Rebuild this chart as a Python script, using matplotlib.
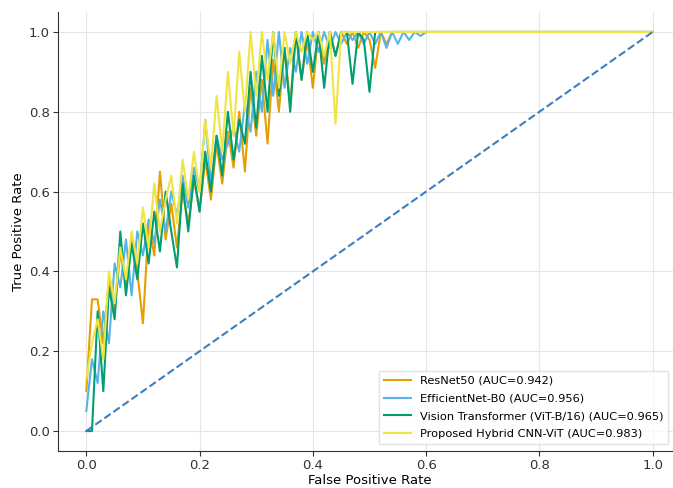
import matplotlib.pyplot as plt

# FPR grid (0.00 .. 0.60 step 0.01, then 1.0)
fpr = [round(i / 100, 2) for i in range(61)] + [1.0]

tpr_resnet = [0.10, 0.33, 0.33, 0.22, 0.38, 0.30, 0.45, 0.36, 0.48, 0.40,
              0.27, 0.52, 0.44, 0.65, 0.48, 0.57, 0.46, 0.60, 0.52, 0.63,
              0.55, 0.68, 0.58, 0.72, 0.62, 0.75, 0.66, 0.80, 0.65, 0.86,
              0.74, 0.88, 0.72, 0.93, 0.80, 0.96, 0.82, 1.00, 0.88, 0.98,
              0.86, 1.00, 0.92, 1.00, 0.94, 1.00, 0.97, 1.00, 0.96, 1.00,
              0.98, 0.91, 1.00, 0.97, 1.00, 1.00, 1.00, 1.00, 1.00, 1.00,
              1.00, 1.00]
tpr_effnet = [0.05, 0.18, 0.12, 0.30, 0.22, 0.42, 0.36, 0.48, 0.34, 0.50,
              0.44, 0.53, 0.47, 0.58, 0.50, 0.60, 0.54, 0.64, 0.56, 0.66,
              0.60, 0.78, 0.62, 0.74, 0.68, 0.72, 0.76, 0.70, 0.82, 0.75,
              0.90, 0.80, 0.98, 0.84, 1.00, 0.86, 0.96, 0.90, 1.00, 0.92,
              1.00, 0.95, 1.00, 0.96, 1.00, 0.97, 1.00, 0.98, 1.00, 0.97,
              1.00, 0.97, 1.00, 0.96, 1.00, 0.97, 1.00, 0.98, 1.00, 0.99,
              1.00, 1.00]
tpr_vit = [0.00, 0.00, 0.30, 0.10, 0.36, 0.28, 0.50, 0.34, 0.47, 0.38,
           0.52, 0.42, 0.55, 0.45, 0.60, 0.50, 0.41, 0.62, 0.50, 0.64,
           0.55, 0.70, 0.60, 0.74, 0.64, 0.80, 0.68, 0.78, 0.72, 0.90,
           0.76, 0.94, 0.80, 1.00, 0.84, 0.96, 0.80, 1.00, 0.88, 1.00,
           0.90, 1.00, 0.86, 1.00, 0.94, 1.00, 1.00, 0.87, 1.00, 0.98,
           0.85, 1.00, 1.00, 1.00, 1.00, 1.00, 1.00, 1.00, 1.00, 1.00,
           1.00, 1.00]
tpr_hybrid = [0.13, 0.22, 0.28, 0.18, 0.40, 0.32, 0.46, 0.38, 0.50, 0.42,
              0.56, 0.46, 0.62, 0.50, 0.58, 0.64, 0.52, 0.68, 0.58, 0.70,
              0.60, 0.78, 0.66, 0.84, 0.70, 0.90, 0.74, 0.95, 0.80, 1.00,
              0.84, 1.00, 0.88, 1.00, 0.86, 1.00, 0.92, 1.00, 0.95, 1.00,
              0.98, 1.00, 0.94, 1.00, 0.77, 1.00, 1.00, 1.00, 1.00, 1.00,
              1.00, 1.00, 1.00, 1.00, 1.00, 1.00, 1.00, 1.00, 1.00, 1.00,
              1.00, 1.00]

labels = ["ResNet50 (AUC=0.942)",
          "EfficientNet-B0 (AUC=0.956)",
          "Vision Transformer (ViT-B/16) (AUC=0.965)",
          "Proposed Hybrid CNN-ViT (AUC=0.983)"]
colors = ["#E69F00", "#56B4E9", "#009E73", "#F0E442"]
series = [tpr_resnet, tpr_effnet, tpr_vit, tpr_hybrid]

fig = plt.figure(figsize=(6.73, 4.88), dpi=100)
ax = fig.add_axes([58 / 673, 37 / 488, 623 / 673, 439 / 488])

for tpr, lab, col in zip(series, labels, colors):
    ax.plot(fpr, tpr, color=col, linewidth=1.5, label=lab)
ax.plot([0, 1], [0, 1], linestyle="--", color="#3A80C0", linewidth=1.5)

ax.set_xlim(-0.05, 1.05)
ax.set_ylim(-0.05, 1.05)
ax.set_xlabel("False Positive Rate", fontsize=9.5, labelpad=1)
ax.set_ylabel("True Positive Rate", fontsize=9.5, labelpad=3)
ax.grid(True, color="#E6E6E6", linewidth=0.8)
ax.set_axisbelow(True)
for s in ["top", "right"]:
    ax.spines[s].set_visible(False)
for s in ["left", "bottom"]:
    ax.spines[s].set_color("#333333")
ax.tick_params(colors="#333333", labelsize=9.5, pad=2.5)

ax.legend(loc="lower right", bbox_to_anchor=(668 / 673, 44 / 488),
          bbox_transform=fig.transFigure, borderaxespad=0, fontsize=8.2,
          labelspacing=0.7, handlelength=2.4,
          frameon=True, edgecolor="#DDDDDD", fancybox=False)

plt.savefig("out.png", dpi=100)
plt.close()
